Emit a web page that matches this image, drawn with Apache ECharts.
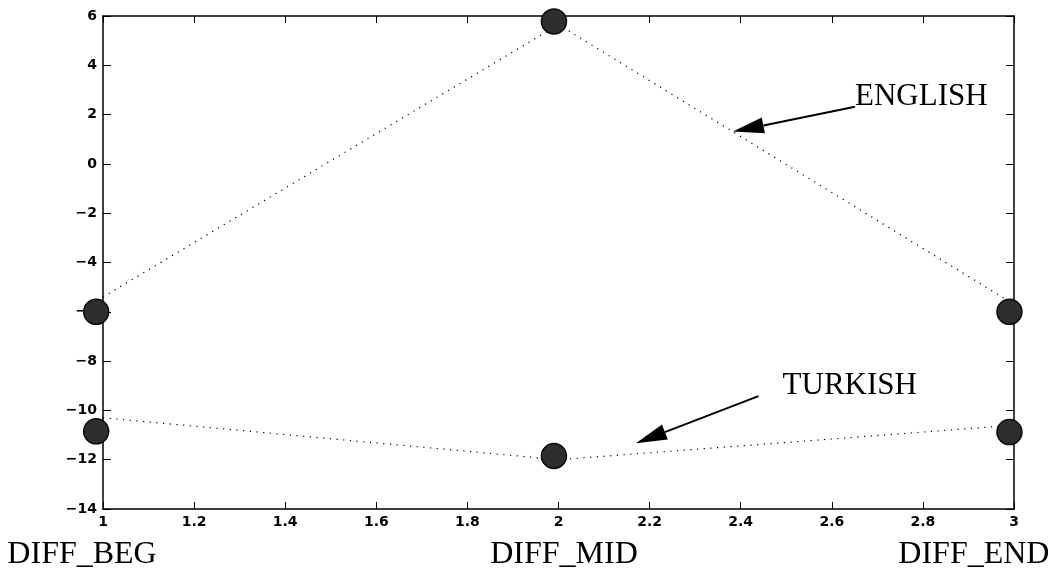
<!DOCTYPE html>
<html>
<head>
<meta charset="utf-8">
<script src="https://cdn.jsdelivr.net/npm/echarts@6/dist/echarts.min.js"></script>
<style>
html,body{margin:0;padding:0;background:#fff;}
#chart{width:1057px;height:569px;}
</style>
</head>
<body>
<div id="chart"></div>
<script>
// ---- data ----
const categories = ['DIFF_BEG', 'DIFF_MID', 'DIFF_END'];
const categoryX = [0.954, 2.012, 2.912];
const categoryY = -15.83;

const lineX = [1, 2, 3];
const englishLine = [-5.4, 5.65, -5.7];
const turkishLine = [-10.3, -12.0, -10.6];

const markerX = [0.985, 1.99, 2.99];
const englishMarkers = [-6.0, 5.78, -6.0];
const turkishMarkers = [-10.85, -11.85, -10.88];

const annotationLabels = ['ENGLISH', 'TURKISH'];
const annotationTextAt = [[2.651, 2.71], [2.492, -9.01]];
const arrowFrom = [[2.651, 2.32], [2.439, -9.42]];
const arrowTo = [[2.383, 1.31], [2.170, -11.33]];

const xTicks = { min: 1, max: 3, interval: 0.2 };
const yTicks = { min: -14, max: 6, interval: 2 };

// ---- chart ----
const chart = echarts.init(document.getElementById('chart'));
const pairs = (xs, ys) => xs.map((x, i) => [x, ys[i]]);
const tickFont = { color: '#000', fontFamily: 'DejaVu Sans', fontWeight: 'bold', fontSize: 14 };
const axisLine = { show: true, onZero: false, lineStyle: { color: '#000', width: 1.5 } };

const xBase = {
  type: 'value', min: xTicks.min, max: xTicks.max, interval: xTicks.interval,
  axisLine: axisLine, splitLine: { show: false },
  axisTick: { show: true, inside: true, length: 7, lineStyle: { color: '#000', width: 1 } }
};
const yBase = {
  type: 'value', min: yTicks.min, max: yTicks.max, interval: yTicks.interval,
  axisLine: axisLine, splitLine: { show: false },
  axisTick: { show: true, inside: true, length: 8, lineStyle: { color: '#000', width: 1 } }
};

const markerStyle = { color: '#2e2e2e', borderColor: '#0a0a0a', borderWidth: 1.5, opacity: 1 };
const dotted = { color: '#000', width: 1.2, type: [1.2, 5.5] };

chart.setOption({
  animation: false,
  backgroundColor: '#fff',
  grid: { left: 103, top: 16, right: 43, bottom: 60, containLabel: false },
  xAxis: [
    Object.assign({}, xBase, {
      position: 'bottom',
      axisLabel: Object.assign({}, tickFont, { margin: 6,
        formatter: v => String(parseFloat(v.toFixed(1))) })
    }),
    Object.assign({}, xBase, { position: 'top', axisLabel: { show: false } })
  ],
  yAxis: [
    Object.assign({}, yBase, {
      position: 'left',
      axisLabel: Object.assign({}, tickFont, { margin: 6,
        formatter: v => String(v).replace('-', '\u2212') })
    }),
    Object.assign({}, yBase, { position: 'right', axisLabel: { show: false } })
  ],
  series: [
    { name: 'ENGLISH line', type: 'line', data: pairs(lineX, englishLine), symbol: 'none',
      lineStyle: dotted, z: 2, silent: true },
    { name: 'TURKISH line', type: 'line', data: pairs(lineX, turkishLine), symbol: 'none',
      lineStyle: dotted, z: 2, silent: true },
    { name: 'ENGLISH', type: 'scatter', data: pairs(markerX, englishMarkers), symbol: 'circle',
      symbolSize: 25, itemStyle: markerStyle, clip: false, z: 5 },
    { name: 'TURKISH', type: 'scatter', data: pairs(markerX, turkishMarkers), symbol: 'circle',
      symbolSize: 25, itemStyle: markerStyle, clip: false, z: 5 }
  ]
});

function px(p) { return chart.convertToPixel({ xAxisIndex: 0, yAxisIndex: 0 }, p); }

const graphics = [];
categories.forEach((c, i) => {
  const p = px([categoryX[i], categoryY]);
  graphics.push({ type: 'text', x: p[0], y: p[1], z: 10,
    style: { text: c, font: '32px "Liberation Serif"', fill: '#000', align: 'center', verticalAlign: 'middle' } });
});
annotationLabels.forEach((t, i) => {
  const p = px(annotationTextAt[i]);
  graphics.push({ type: 'text', x: p[0], y: p[1], z: 10,
    style: { text: t, font: '31px "Liberation Serif"', fill: '#000', align: 'left', verticalAlign: 'middle' } });
  const a = px(arrowFrom[i]), b = px(arrowTo[i]);
  const dx = b[0] - a[0], dy = b[1] - a[1];
  const len = Math.sqrt(dx * dx + dy * dy);
  const ux = dx / len, uy = dy / len;
  const headLen = 31, headHalf = 8;
  const bx = b[0] - ux * headLen, by = b[1] - uy * headLen;
  graphics.push({ type: 'line', z: 10,
    shape: { x1: a[0], y1: a[1], x2: bx, y2: by },
    style: { stroke: '#000', lineWidth: 2 } });
  graphics.push({ type: 'polygon', z: 10,
    shape: { points: [[b[0], b[1]], [bx - uy * headHalf, by + ux * headHalf], [bx + uy * headHalf, by - ux * headHalf]] },
    style: { fill: '#000' } });
});
chart.setOption({ graphic: graphics });
</script>
</body>
</html>
